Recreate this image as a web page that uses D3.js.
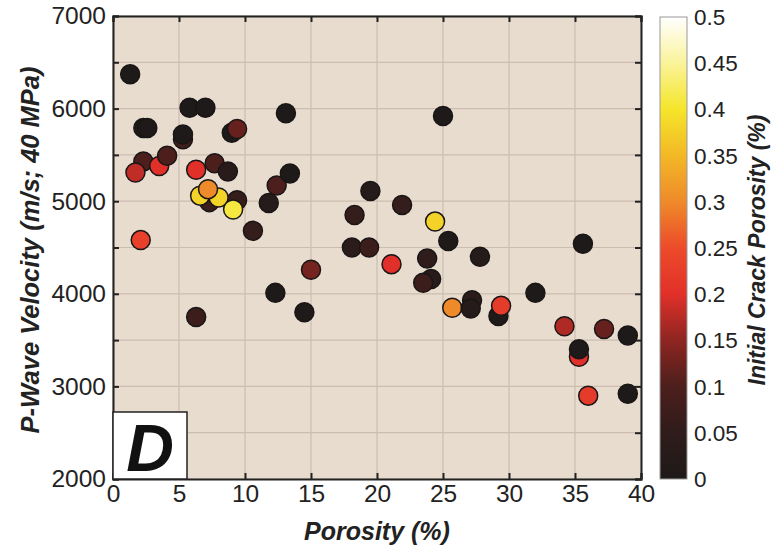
<!DOCTYPE html>
<html>
<head>
<meta charset="utf-8">
<script src="https://cdn.jsdelivr.net/npm/d3@7"></script>
<style>
body{margin:0;background:#fff;}
svg text{font-family:"Liberation Sans",Arial,sans-serif;}
</style>
</head>
<body>
<svg id="chart" width="779" height="548"></svg>
<script>
// porosity (%), vp (m/s), initial crack porosity (%)
var porosity = [1.3,5.8,7.0,2.3,2.6,5.3,5.3,13.1,9.0,9.4,2.3,1.7,3.5,4.1,6.3,7.7,8.7,
  7.3,9.4,6.6,8.0,9.1,7.2,11.8,12.4,13.4,10.6,2.1,25.0,19.5,18.3,21.9,24.4,25.4,
  18.1,19.4,15.0,21.1,23.8,24.1,23.5,14.5,12.3,25.7,27.2,27.1,27.8,35.6,29.2,29.4,
  32.0,34.2,37.2,39.0,35.3,35.3,36.0,39.0,6.3];
var velocity = [6370,6010,6010,5790,5790,5670,5720,5950,5740,5780,5430,5310,5380,5490,5340,5410,5320,
  4990,5010,5060,5040,4910,5130,4980,5170,5300,4680,4580,5920,5110,4850,4960,4780,4570,
  4500,4500,4260,4320,4380,4160,4120,3800,4010,3850,3930,3840,4400,4540,3760,3870,
  4010,3650,3620,3550,3320,3400,2900,2920,3750];
var crack = [0,0,0,0,0,0.08,0,0,0,0.12,0.1,0.18,0.2,0.1,0.2,0.1,0.03,
  0.07,0.06,0.38,0.38,0.41,0.3,0.02,0.1,0,0.06,0.23,0,0.02,0.06,0.06,0.38,0,
  0.04,0.07,0.13,0.2,0.05,0.03,0.07,0,0,0.3,0.04,0.02,0.02,0,0,0.22,
  0,0.17,0.12,0,0.2,0,0.22,0,0.07];

var xTicks = [0,5,10,15,20,25,30,35,40];
var yTicks = [2000,3000,4000,5000,6000,7000];
var cTicks = [0,0.05,0.1,0.15,0.2,0.25,0.3,0.35,0.4,0.45,0.5];
var cStops = [0,0.05,0.1,0.15,0.2,0.25,0.3,0.35,0.4,0.45,0.5];
var cColors = ["#1d1a19","#2f1c1b","#4c1f1c","#8e2521","#e1302a","#ec4b2a","#ef8a2a","#f3b826","#f5e52a","#faf39a","#ffffff"];

var svg = d3.select("#chart");
var pLeft = 113, pRight = 641, pTop = 16, pBottom = 479;

var x = d3.scaleLinear().domain([0,40]).range([pLeft,pRight]);
var y = d3.scaleLinear().domain([2000,7000]).range([pBottom,pTop]);
var color = d3.scaleLinear().domain(cStops).range(cColors).clamp(true);

svg.append("rect")
    .attr("x",pLeft).attr("y",pTop)
    .attr("width",pRight-pLeft).attr("height",pBottom-pTop)
    .attr("fill","#e8dccf");

// grid
svg.append("g").selectAll("line")
    .data(d3.range(0,41,5))
    .enter().append("line")
    .attr("x1",function(d){return x(d);}).attr("x2",function(d){return x(d);})
    .attr("y1",pTop).attr("y2",pBottom)
    .attr("stroke","#cbbdaf").attr("stroke-width",1.2);
svg.append("g").selectAll("line")
    .data(d3.range(2000,7001,500))
    .enter().append("line")
    .attr("y1",function(d){return y(d);}).attr("y2",function(d){return y(d);})
    .attr("x1",pLeft).attr("x2",pRight)
    .attr("stroke","#cbbdaf").attr("stroke-width",1.2);

// axes, ticks inward
svg.append("g").attr("transform","translate(0,"+pBottom+")")
    .call(d3.axisBottom(x).tickValues(xTicks).tickSize(-6).tickPadding(6).tickFormat(function(d){return d;}));
svg.append("g").attr("transform","translate(0,"+pTop+")")
    .call(d3.axisTop(x).tickValues(xTicks).tickSize(-6).tickFormat(""));
svg.append("g").attr("transform","translate("+pLeft+",0)")
    .call(d3.axisLeft(y).tickValues(d3.range(2000,7001,500)).tickSize(-6).tickPadding(7)
      .tickFormat(function(d){return yTicks.indexOf(d) >= 0 ? d : "";}));
svg.append("g").attr("transform","translate("+pRight+",0)")
    .call(d3.axisRight(y).tickValues(d3.range(2000,7001,500)).tickSize(-6).tickFormat(""));

svg.selectAll(".domain").attr("stroke","#222").attr("stroke-width",2);
svg.selectAll(".tick line").attr("stroke","#222").attr("stroke-width",2);
svg.selectAll(".tick text").attr("font-size",24.5).attr("fill","#222")
    .attr("font-family","Liberation Sans, Arial, sans-serif");

// points
svg.append("g").selectAll("circle")
    .data(porosity)
    .enter().append("circle")
    .attr("cx",function(d){return x(d);})
    .attr("cy",function(d,i){return y(velocity[i]);})
    .attr("r",9.5)
    .attr("fill",function(d,i){return color(crack[i]);})
    .attr("stroke","#1a1616")
    .attr("stroke-width",1.5);

// panel label
svg.append("rect")
    .attr("x",pLeft).attr("y",412)
    .attr("width",74).attr("height",pBottom-412)
    .attr("fill","#fff").attr("stroke","#222").attr("stroke-width",1.5);
svg.append("text")
    .attr("x",pLeft+37).attr("y",471)
    .attr("text-anchor","middle")
    .attr("font-size",66).attr("font-weight","bold").attr("font-style","italic")
    .attr("fill","#111")
    .text("D");

// axis titles
svg.append("text")
    .attr("x",377).attr("y",540)
    .attr("text-anchor","middle")
    .attr("font-size",25).attr("font-weight","bold").attr("font-style","italic")
    .attr("fill","#222")
    .text("Porosity (%)");
svg.append("text")
    .attr("transform","translate(39,250) rotate(-90)")
    .attr("text-anchor","middle")
    .attr("font-size",25.5).attr("font-weight","bold").attr("font-style","italic")
    .attr("fill","#222")
    .text("P-Wave Velocity (m/s; 40 MPa)");

// colorbar
var cbX = 660, cbW = 27, cbTop = 17, cbBottom = 479;
var cy = d3.scaleLinear().domain([0,0.5]).range([cbBottom,cbTop]);
var defs = svg.append("defs");
var grad = defs.append("linearGradient").attr("id","cgrad")
    .attr("x1","0").attr("y1","1").attr("x2","0").attr("y2","0");
grad.selectAll("stop").data(cStops).enter().append("stop")
    .attr("offset",function(d){return d/0.5;})
    .attr("stop-color",function(d,i){return cColors[i];});
svg.append("rect")
    .attr("x",cbX).attr("y",cbTop)
    .attr("width",cbW).attr("height",cbBottom-cbTop)
    .attr("fill","url(#cgrad)")
    .attr("stroke","#999").attr("stroke-width",1);
svg.append("g").selectAll("text")
    .data(cTicks)
    .enter().append("text")
    .attr("x",cbX+cbW+7)
    .attr("y",function(d){return cy(d)+8;})
    .attr("font-size",22.5).attr("fill","#222")
    .text(function(d){return d;});
svg.append("text")
    .attr("transform","translate(765,250) rotate(-90)")
    .attr("text-anchor","middle")
    .attr("font-size",23).attr("font-weight","bold").attr("font-style","italic")
    .attr("fill","#222")
    .text("Initial Crack Porosity (%)");
</script>
</body>
</html>
